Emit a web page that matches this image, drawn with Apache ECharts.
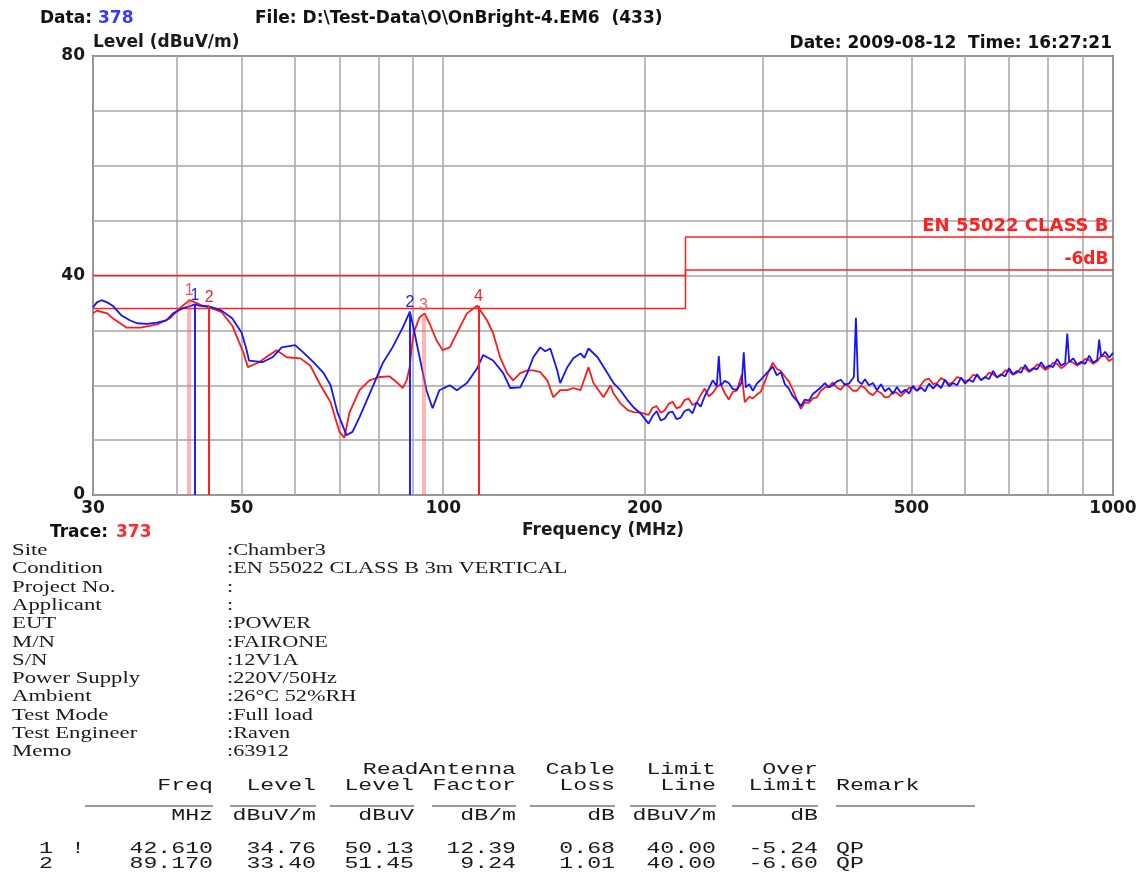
<!DOCTYPE html>
<html>
<head>
<meta charset="utf-8">
<title>EN 55022 CLASS B - OnBright-4</title>
<script src="https://cdn.jsdelivr.net/npm/echarts@6/dist/echarts.min.js"></script>
<style>
  html, body { margin: 0; padding: 0; background: #fff; }
  #chart { width: 1140px; height: 873px; }
</style>
</head>
<body>
<div id="chart"></div>
<script>
// trace Data 378 (blue), [MHz, dBuV/m]
var blueTrace = [
  [30.0,34.2],[30.4,35.1],[30.9,35.5],[31.5,35.1],[32.1,34.5],[33.1,32.7],[34.1,31.8],[34.9,31.3],
  [36.1,31.2],[37.4,31.4],[38.6,31.8],[39.5,33.1],[40.8,34.0],[42.1,34.5],[42.61,34.76],[43.2,34.5],
  [45.2,34.2],[46.7,33.6],[48.4,32.2],[50.0,29.6],[50.8,26.7],[51.3,24.5],[53.7,24.2],[55.6,25.1],
  [57.4,26.9],[60.1,27.3],[61.8,26.0],[64.0,24.2],[66.3,22.2],[67.9,20.0],[69.5,15.1],[71.7,10.9],
  [73.2,11.5],[75.0,14.2],[78.4,19.6],[81.2,24.0],[84.0,26.9],[87.0,30.5],[89.17,33.40],[90.0,31.3],
  [92.2,25.1],[94.4,19.1],[96.4,15.8],[98.7,19.1],[102.3,20.0],[104.8,19.1],[108.5,20.4],[112.4,23.1],
  [114.7,25.5],[118.7,24.5],[122.9,22.2],[125.9,19.5],[130.3,19.6],[133.5,22.2],[136.3,25.1],[139.6,26.9],
  [142.0,26.2],[144.5,26.7],[148.0,22.7],[149.5,20.4],[153.2,23.3],[156.4,24.9],[160.3,25.8],[162.5,25.0],
  [164.8,26.7],[170.0,25.1],[175.9,22.2],[179.6,20.4],[183.9,19.1],[188.4,17.3],[192.3,16.0],
  [197.0,14.9],[202.6,13.0],[205.4,14.4],[208.3,15.3],[211.2,13.6],[214.1,13.9],[217.0,15.0],[220.0,15.2],
  [223.1,13.8],[226.2,14.1],[229.3,15.3],[232.5,15.6],[235.7,14.9],[239.0,16.9],[242.3,16.1],[245.7,18.0],
  [249.1,19.4],[252.6,20.9],[256.1,19.8],[257.9,25.3],[259.6,19.9],[263.2,20.8],[266.9,20.4],[270.6,19.3],
  [274.3,19.2],[279.1,20.5],[281.0,26.0],[283.0,19.6],[286.4,20.2],[289.9,19.0],[293.9,20.3],[297.9,21.0],
  [302.0,21.8],[306.2,22.6],[310.5,23.4],[314.8,21.8],[319.2,22.4],[323.6,20.2],[328.1,19.4],[332.6,18.0],
  [337.3,17.2],[342.0,16.2],[346.7,17.4],[351.5,17.2],[356.4,18.4],[361.3,19.0],[366.3,19.6],[371.4,20.4],
  [376.5,19.6],[381.7,20.0],[387.0,20.7],[392.4,21.0],[397.8,20.1],[403.4,20.3],[410.3,21.5],[413.2,32.3],
  [416.1,20.8],[421.4,20.2],[426.2,21.1],[432.1,20.0],[438.1,20.4],[444.2,19.1],[450.3,20.2],[456.5,18.9],
  [462.9,19.5],[469.3,18.4],[475.8,19.7],[482.4,18.6],[489.2,19.2],[496.0,18.5],[502.7,19.9],[509.7,19.0],
  [516.8,19.6],[524.0,18.9],[531.2,20.3],[538.6,19.4],[546.1,20.2],[553.7,19.5],[561.3,21.0],[569.1,19.8],
  [577.0,20.4],[585.0,20.0],[593.1,21.4],[601.3,20.3],[609.6,21.0],[618.1,20.6],[626.7,22.0],[635.4,20.9],
  [644.1,21.5],[653.1,21.1],[662.1,22.6],[671.3,21.4],[680.7,22.0],[690.2,21.6],[699.6,23.1],[709.3,22.0],
  [719.2,22.6],[729.2,22.3],[739.2,23.7],[749.5,22.6],[759.9,23.1],[770.5,22.9],[781.0,24.2],[791.9,23.1],
  [802.8,23.6],[813.9,23.3],[825.2,24.8],[836.7,23.6],[848.3,24.0],[854.5,29.4],[860.3,24.2],[872.0,24.9],
  [884.1,23.8],[896.3,24.3],[908.8,23.9],[921.4,25.4],[934.2,24.1],[947.1,24.6],[953.5,28.3],[960.0,25.2],
  [973.5,26.1],[987.0,25.0],[1000,25.9]
];

// trace Trace 373 (red), [MHz, dBuV/m]
var redTrace = [
  [30.0,33.1],[30.4,33.6],[31.5,33.1],[32.1,32.2],[33.7,30.5],[35.3,30.5],[37.4,31.1],[39.1,32.2],
  [40.4,34.0],[41.8,35.5],[43.7,34.5],[44.7,34.4],[45.2,34.0],[46.7,33.3],[48.4,30.9],[50.3,26.0],
  [51.1,23.3],[53.1,24.2],[55.0,25.5],[56.4,26.4],[58.4,25.1],[61.2,24.9],[63.3,23.6],[65.6,20.0],
  [67.9,16.9],[70.0,11.5],[71.2,10.4],[72.4,14.9],[75.0,19.1],[77.6,20.9],[80.3,21.5],[83.2,21.6],
  [85.5,20.4],[87.0,19.5],[88.2,20.9],[89.1,23.3],[90.0,28.2],[90.6,30.0],[92.2,32.4],[93.8,33.1],
  [95.4,31.3],[97.7,28.2],[99.8,26.4],[102.3,26.9],[104.8,29.5],[108.5,33.1],[112.4,34.5],[116.3,31.8],
  [118.7,29.5],[121.6,25.1],[124.6,22.2],[127.2,20.9],[130.3,22.2],[133.5,22.7],[136.3,22.7],[139.6,22.4],
  [143.0,20.9],[146.0,17.8],[149.5,19.1],[153.2,19.1],[156.4,19.5],[160.3,19.1],[164.8,23.3],[167.6,20.4],
  [173.5,17.8],[177.7,20.0],[179.6,18.5],[183.9,16.7],[188.4,15.5],[192.3,15.1],
  [197.0,15.0],[202.6,14.6],[205.4,15.9],[208.3,16.2],[211.2,15.0],[214.1,15.4],[217.0,16.6],[220.0,17.0],
  [223.1,15.8],[226.2,16.1],[229.3,17.3],[232.5,17.6],[235.7,16.4],[239.0,16.8],[242.3,18.2],[245.7,19.4],
  [249.1,18.0],[252.6,18.6],[256.1,19.7],[259.6,20.2],[263.2,18.6],[266.9,17.4],[270.6,18.8],[274.3,19.0],
  [279.1,21.9],[282.0,16.9],[286.4,17.9],[289.9,17.6],[293.9,18.3],[297.9,18.8],[302.0,20.6],[306.2,22.5],
  [310.5,24.1],[314.8,23.0],[319.2,22.6],[323.6,21.6],[328.1,20.7],[332.6,19.2],[337.3,17.4],[342.0,15.7],
  [346.7,16.9],[351.5,16.8],[356.4,17.6],[361.3,17.8],[366.3,19.0],[371.4,19.6],[376.5,19.8],[381.7,20.5],
  [387.0,19.6],[392.4,19.2],[397.8,20.2],[403.4,19.8],[409.0,19.0],[414.6,19.0],[420.4,19.9],[426.2,19.5],
  [432.1,18.6],[438.1,18.2],[444.2,19.0],[450.3,18.6],[456.5,17.8],[462.9,17.9],[469.3,18.8],[475.8,18.6],
  [482.4,18.0],[489.2,18.8],[496.0,19.5],[502.7,19.6],[509.7,19.0],[516.8,20.1],[524.0,21.0],[531.2,21.2],
  [538.6,20.2],[546.1,20.4],[553.7,21.3],[561.3,20.9],[569.1,20.2],[577.0,20.6],[585.0,21.5],[593.1,21.3],
  [601.3,20.7],[609.6,21.0],[618.1,21.9],[626.7,21.7],[635.4,21.0],[644.1,21.4],[653.1,22.3],[662.1,22.0],
  [671.3,21.5],[680.7,21.8],[690.2,22.7],[699.6,22.6],[709.3,21.9],[719.2,22.3],[729.2,23.2],[739.2,23.1],
  [749.5,22.4],[759.9,22.9],[770.5,23.8],[781.0,23.5],[791.9,22.8],[802.8,23.2],[813.9,24.1],[825.2,23.9],
  [836.7,23.1],[848.3,23.6],[860.3,24.4],[872.0,24.1],[884.1,23.6],[896.3,24.0],[908.8,24.8],[921.4,24.6],
  [934.2,23.9],[947.1,24.4],[960.0,25.3],[973.5,25.3],[987.0,24.4],[1000,24.9]
];

// peak markers [number, MHz, dBuV/m]
var blueMarkers = [[1, 42.61, 34.76], [2, 89.17, 33.40]];
var redMarkers = [[1, 41.76, 35.6], [2, 44.73, 34.4], [3, 93.4, 32.9], [4, 112.9, 34.5]];

// EN 55022 class B limit and the -6dB line
var limitFreq = [30, 230, 230, 1000];
var limitLevel = [40, 40, 47, 47];
var marginLevel = [34, 34, 41, 41];

// axes
var freqGrid = [30, 40, 50, 60, 70, 80, 90, 100, 200, 300, 400, 500, 600, 700, 800, 900, 1000];
var freqLabels = [30, 50, 100, 200, 500, 1000];
var levelLabels = [0, 40, 80];

// text blocks
var infoLabels = ['Site', 'Condition', 'Project No.', 'Applicant', 'EUT', 'M/N', 'S/N',
  'Power Supply', 'Ambient', 'Test Mode', 'Test Engineer', 'Memo'];
var infoValues = ['Chamber3', 'EN 55022 CLASS B 3m VERTICAL', '', '', 'POWER', 'FAIRONE', '12V1A',
  '220V/50Hz', '26°C 52%RH', 'Full load', 'Raven', '63912'];
var headTop = ['', '', '', 'ReadAntenna', 'Cable', 'Limit', 'Over'];
var headMid = ['Freq', 'Level', 'Level', 'Factor', 'Loss', 'Line', 'Limit'];
var headUnit = ['MHz', 'dBuV/m', 'dBuV', 'dB/m', 'dB', 'dBuV/m', 'dB'];
var tableRows = [
  ['1', '!', '42.610', '34.76', '50.13', '12.39', '0.68', '40.00', '-5.24', 'QP'],
  ['2', '', '89.170', '33.40', '51.45', '9.24', '1.01', '40.00', '-6.60', 'QP']
];

var lx = function (f) { return Math.log10(f); };
var BOLD = 'bold 17px "DejaVu Sans"';
var SERIF = '16px "Liberation Serif"';
var MONO = '16px "Liberation Mono"';

function markerLines(list, color, faint) {
  return list.map(function (m) {
    var pale = faint.indexOf(m[0]) >= 0;
    return [{
      coord: [lx(m[1]), 0],
      lineStyle: pale ? { color: 'rgba(255,90,90,0.45)', width: 4, type: 'solid' } : { color: color, width: 2, type: 'solid' },
      label: { show: true, position: 'end', distance: 1, formatter: String(m[0]),
        color: pale ? '#f25a5a' : color, fontSize: 16, fontFamily: 'Liberation Sans' }
    }, { coord: [lx(m[1]), m[2]] }];
  });
}

var chart = echarts.init(document.getElementById('chart'));

// text outside the plot
var gfx = [
  { type: 'text', x: 40, y: 19, style: { text: 'Data: ', font: BOLD, fill: '#111', textVerticalAlign: 'middle' } },
  { type: 'text', x: 98, y: 19, style: { text: '378', font: BOLD, fill: '#3a3aff', textVerticalAlign: 'middle' } },
  { type: 'text', x: 255, y: 19, style: { text: 'File: D:\\Test-Data\\O\\OnBright-4.EM6  (433)', font: BOLD, fill: '#111', textVerticalAlign: 'middle' } },
  { type: 'text', x: 1112, y: 44, style: { text: 'Date: 2009-08-12  Time: 16:27:21', font: BOLD, fill: '#111', textAlign: 'right', textVerticalAlign: 'middle' } },
  { type: 'text', x: 50, y: 533, style: { text: 'Trace: ', font: BOLD, fill: '#111', textVerticalAlign: 'middle' } },
  { type: 'text', x: 116, y: 533, style: { text: '373', font: BOLD, fill: '#ff2a2a', textVerticalAlign: 'middle' } }
];

infoLabels.forEach(function (lab, i) {
  var y = 551 + i * 18.27;
  gfx.push({ type: 'text', x: 12, y: y, scaleX: 1.42, style: { text: lab, font: SERIF, fill: '#1a1a1a', textVerticalAlign: 'middle' } });
  gfx.push({ type: 'text', x: 227, y: y, scaleX: 1.39, style: { text: ':' + infoValues[i], font: SERIF, fill: '#1a1a1a', textVerticalAlign: 'middle' } });
});

var colRight = [213, 316, 414, 516, 615, 716, 818];
var ruleSpans = [[85, 213], [230, 316], [330, 414], [432, 516], [530, 615], [630, 716], [732, 818], [836, 975]];
function mono(txt, x, y, align) {
  gfx.push({ type: 'text', x: x, y: y, scaleX: 1.45, style: { text: txt, font: MONO, fill: '#1a1a1a', textAlign: align || 'right', textVerticalAlign: 'middle' } });
}
colRight.forEach(function (x, i) {
  if (headTop[i]) mono(headTop[i], x, 770);
  mono(headMid[i], x, 786);
  mono(headUnit[i], x, 816);
});
mono('Remark', 836, 786, 'left');
ruleSpans.forEach(function (s) {
  gfx.push({ type: 'line', shape: { x1: s[0], y1: 806, x2: s[1], y2: 806 }, style: { stroke: '#333', lineWidth: 1 } });
});
tableRows.forEach(function (r, k) {
  var y = 849 + k * 15;
  mono(r[0], 46, y, 'center');
  if (r[1]) mono(r[1], 78, y, 'center');
  for (var c = 0; c < 7; c++) mono(r[c + 2], colRight[c], y);
  mono(r[9], 836, y, 'left');
});

var axisFont = { fontFamily: 'DejaVu Sans', fontWeight: 'bold', fontSize: 17, color: '#1a1a1a' };
var limitFont = { color: '#ff2020', fontFamily: 'DejaVu Sans', fontWeight: 'bold', fontSize: 18 };

chart.setOption({
  animation: false,
  backgroundColor: '#fff',
  grid: { left: 93, right: 27, top: 56, bottom: 378, show: true, borderColor: '#6b6b6b', borderWidth: 2 },
  xAxis: {
    type: 'value', min: lx(30), max: 3,
    name: 'Frequency (MHz)', nameLocation: 'middle', nameGap: 21,
    nameTextStyle: axisFont,
    axisLine: { show: false },
    axisTick: { show: false, customValues: freqGrid.map(lx) },
    axisLabel: Object.assign({ customValues: freqLabels.map(lx), margin: 5,
      formatter: function (v) { return String(Math.round(Math.pow(10, v))); } }, axisFont),
    splitLine: { show: true, lineStyle: { color: '#a6a6a6', width: 1.5 } }
  },
  yAxis: {
    type: 'value', min: 0, max: 80, interval: 10,
    name: 'Level (dBuV/m)', nameLocation: 'end', nameGap: 5,
    nameTextStyle: Object.assign({ align: 'left', verticalAlign: 'bottom' }, axisFont),
    axisLine: { show: false },
    axisTick: { show: false },
    axisLabel: Object.assign({ margin: 8,
      formatter: function (v) { return levelLabels.indexOf(v) >= 0 ? String(v) : ''; } }, axisFont),
    splitLine: { show: true, lineStyle: { color: '#a6a6a6', width: 1.5 } }
  },
  graphic: gfx,
  series: [
    {
      name: 'limit', type: 'line', symbol: 'none', silent: true,
      data: limitFreq.map(function (f, i) { return [lx(f), limitLevel[i]]; }),
      lineStyle: { color: '#ff2020', width: 1.5 },
      markPoint: {
        symbol: 'circle', symbolSize: 1, itemStyle: { color: 'rgba(0,0,0,0)' }, silent: true,
        data: [{ coord: [3, limitLevel[3]], label: Object.assign({ show: true, formatter: 'EN 55022 CLASS B',
          position: [-4, -1], align: 'right', verticalAlign: 'bottom' }, limitFont) }]
      }
    },
    {
      name: '-6dB', type: 'line', symbol: 'none', silent: true,
      data: limitFreq.map(function (f, i) { return [lx(f), marginLevel[i]]; }),
      lineStyle: { color: '#ff2020', width: 1.5 },
      markPoint: {
        symbol: 'circle', symbolSize: 1, itemStyle: { color: 'rgba(0,0,0,0)' }, silent: true,
        data: [{ coord: [3, marginLevel[3]], label: Object.assign({ show: true, formatter: '-6dB',
          position: [-4, -1], align: 'right', verticalAlign: 'bottom' }, limitFont, { fontSize: 17 }) }]
      }
    },
    {
      name: 'Trace 373', type: 'line', symbol: 'none',
      data: redTrace.map(function (p) { return [lx(p[0]), p[1]]; }),
      lineStyle: { color: '#ff1a1a', width: 1.8 },
      markLine: { symbol: ['none', 'none'], silent: true, data: markerLines(redMarkers, '#ff2020', [1, 3]) }
    },
    {
      name: 'Data 378', type: 'line', symbol: 'none',
      data: blueTrace.map(function (p) { return [lx(p[0]), p[1]]; }),
      lineStyle: { color: '#1414ff', width: 1.8 },
      markLine: { symbol: ['none', 'none'], silent: true, data: markerLines(blueMarkers, '#2020ff', []) }
    }
  ]
});
</script>
</body>
</html>
